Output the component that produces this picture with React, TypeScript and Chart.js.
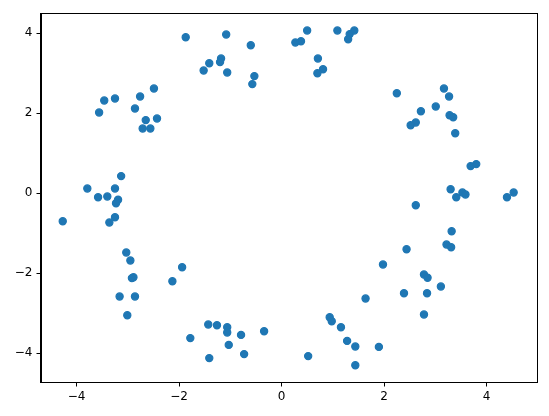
import React, { useEffect, useRef } from "react";
import { Chart, registerables } from "chart.js";

Chart.register(...registerables);

const xValues: number[] = [
  -1.87, -1.08, -0.60, -1.41, -1.52, -1.18, -1.20, -1.06, -0.53, -0.57,
  -2.49, -2.76, -3.25, -3.46, -3.56, -2.86, -2.65, -2.43, -2.71, -2.56,
  -3.13, -3.79, -3.25, -3.58, -3.40, -3.19, -3.23, -3.25, -3.36, -4.27,
  -3.03, -2.95, -2.89, -2.92, -1.94, -2.13, -3.16, -2.86, -3.01, -1.43,
  -1.26, -1.06, -1.06, -0.79, -0.34, -1.78, -1.03, -0.73, -1.41,
  0.50, 0.27, 0.38, 1.09, 1.42, 1.33, 1.30, 0.71, 0.81, 0.70,
  2.25, 3.17, 3.27, 3.01, 2.72, 2.62, 2.52, 3.28, 3.35, 3.39,
  3.69, 3.80, 3.30, 3.41, 3.53, 3.59, 4.40, 4.53, 2.62,
  3.32, 3.22, 3.31, 2.44, 1.98, 2.78, 2.85, 3.11, 2.39, 2.84,
  1.64, 2.78, 0.94, 0.98, 1.16, 1.28, 1.44, 1.90, 0.52, 1.44,
];

const yValues: number[] = [
  3.90, 3.97, 3.70, 3.25, 3.07, 3.37, 3.28, 3.02, 2.93, 2.73,
  2.62, 2.42, 2.37, 2.32, 2.02, 2.12, 1.83, 1.87, 1.62, 1.62,
  0.43, 0.12, 0.12, -0.10, -0.08, -0.16, -0.25, -0.60, -0.73, -0.70,
  -1.48, -1.68, -2.10, -2.12, -1.85, -2.20, -2.58, -2.58, -3.05, -3.28,
  -3.30, -3.35, -3.48, -3.54, -3.45, -3.62, -3.79, -4.02, -4.12,
  4.07, 3.77, 3.80, 4.07, 4.07, 3.98, 3.85, 3.37, 3.10, 3.00,
  2.50, 2.62, 2.42, 2.17, 2.05, 1.77, 1.70, 1.95, 1.90, 1.50,
  0.68, 0.73, 0.10, -0.10, 0.02, -0.03, -0.10, 0.02, -0.30,
  -0.95, -1.28, -1.35, -1.40, -1.78, -2.03, -2.11, -2.33, -2.50, -2.50,
  -2.63, -3.03, -3.10, -3.20, -3.35, -3.69, -3.83, -3.84, -4.07, -4.30,
];

const xTicks: number[] = [-4, -2, 0, 2, 4];
const yTicks: number[] = [-4, -2, 0, 2, 4];

const fmt = (v: number) => (v < 0 ? "\u2212" + Math.abs(v) : String(v));

const framePlugin = {
  id: "frame",
  afterDraw(chart: any) {
    const { ctx, chartArea } = chart;
    ctx.save();
    ctx.strokeStyle = "#000";
    ctx.lineWidth = 1;
    ctx.strokeRect(
      Math.round(chartArea.left) + 0.5,
      Math.round(chartArea.top) + 0.5,
      Math.round(chartArea.right) - Math.round(chartArea.left),
      Math.round(chartArea.bottom) - Math.round(chartArea.top)
    );
    ctx.restore();
  },
};

export default function App() {
  const ref = useRef<HTMLCanvasElement | null>(null);
  useEffect(() => {
    if (!ref.current) return;
    const data = xValues.map((x, i) => ({ x, y: yValues[i] }));
    const font = { family: "DejaVu Sans", size: 12 };
    const chart = new Chart(ref.current, {
      type: "scatter",
      data: {
        datasets: [
          {
            data,
            backgroundColor: "#1f77b4",
            borderColor: "#1f77b4",
            pointRadius: 3.6,
            borderWidth: 1.2,
          },
        ],
      },
      options: {
        animation: false,
        responsive: false,
        devicePixelRatio: 1,
        layout: { padding: { top: 13.3, right: 12.3, left: 0, bottom: 0 } },
        plugins: { legend: { display: false }, tooltip: { enabled: false } },
        scales: {
          x: {
            type: "linear",
            min: -4.70,
            max: 4.98,
            afterFit: (s: any) => {
              s.height = 33.7;
            },
            afterBuildTicks: (s: any) => {
              s.ticks = xTicks.map((v) => ({ value: v }));
            },
            ticks: {
              color: "#000",
              font,
              padding: 3,
              maxRotation: 0,
              callback: (v: any) => fmt(Number(v)),
            },
            grid: {
              display: true,
              drawOnChartArea: false,
              drawTicks: true,
              tickLength: 4.2,
              color: "#000",
              lineWidth: 1,
            },
            border: { display: true, color: "#000", width: 1 },
          },
          y: {
            type: "linear",
            min: -4.725,
            max: 4.5,
            afterFit: (s: any) => {
              s.width = 40.7;
            },
            afterBuildTicks: (s: any) => {
              s.ticks = yTicks.map((v) => ({ value: v }));
            },
            ticks: {
              color: "#000",
              font,
              padding: 4,
              callback: (v: any) => fmt(Number(v)),
            },
            grid: {
              display: true,
              drawOnChartArea: false,
              drawTicks: true,
              tickLength: 4.2,
              color: "#000",
              lineWidth: 1,
            },
            border: { display: true, color: "#000", width: 1 },
          },
        },
      },
      plugins: [framePlugin],
    } as any);
    return () => chart.destroy();
  }, []);
  return (
    <div style={{ position: "absolute", left: 0, top: 0, width: 549, height: 416, background: "#fff" }}>
      <canvas ref={ref} width={549} height={416} style={{ width: 549, height: 416 }} />
    </div>
  );
}
